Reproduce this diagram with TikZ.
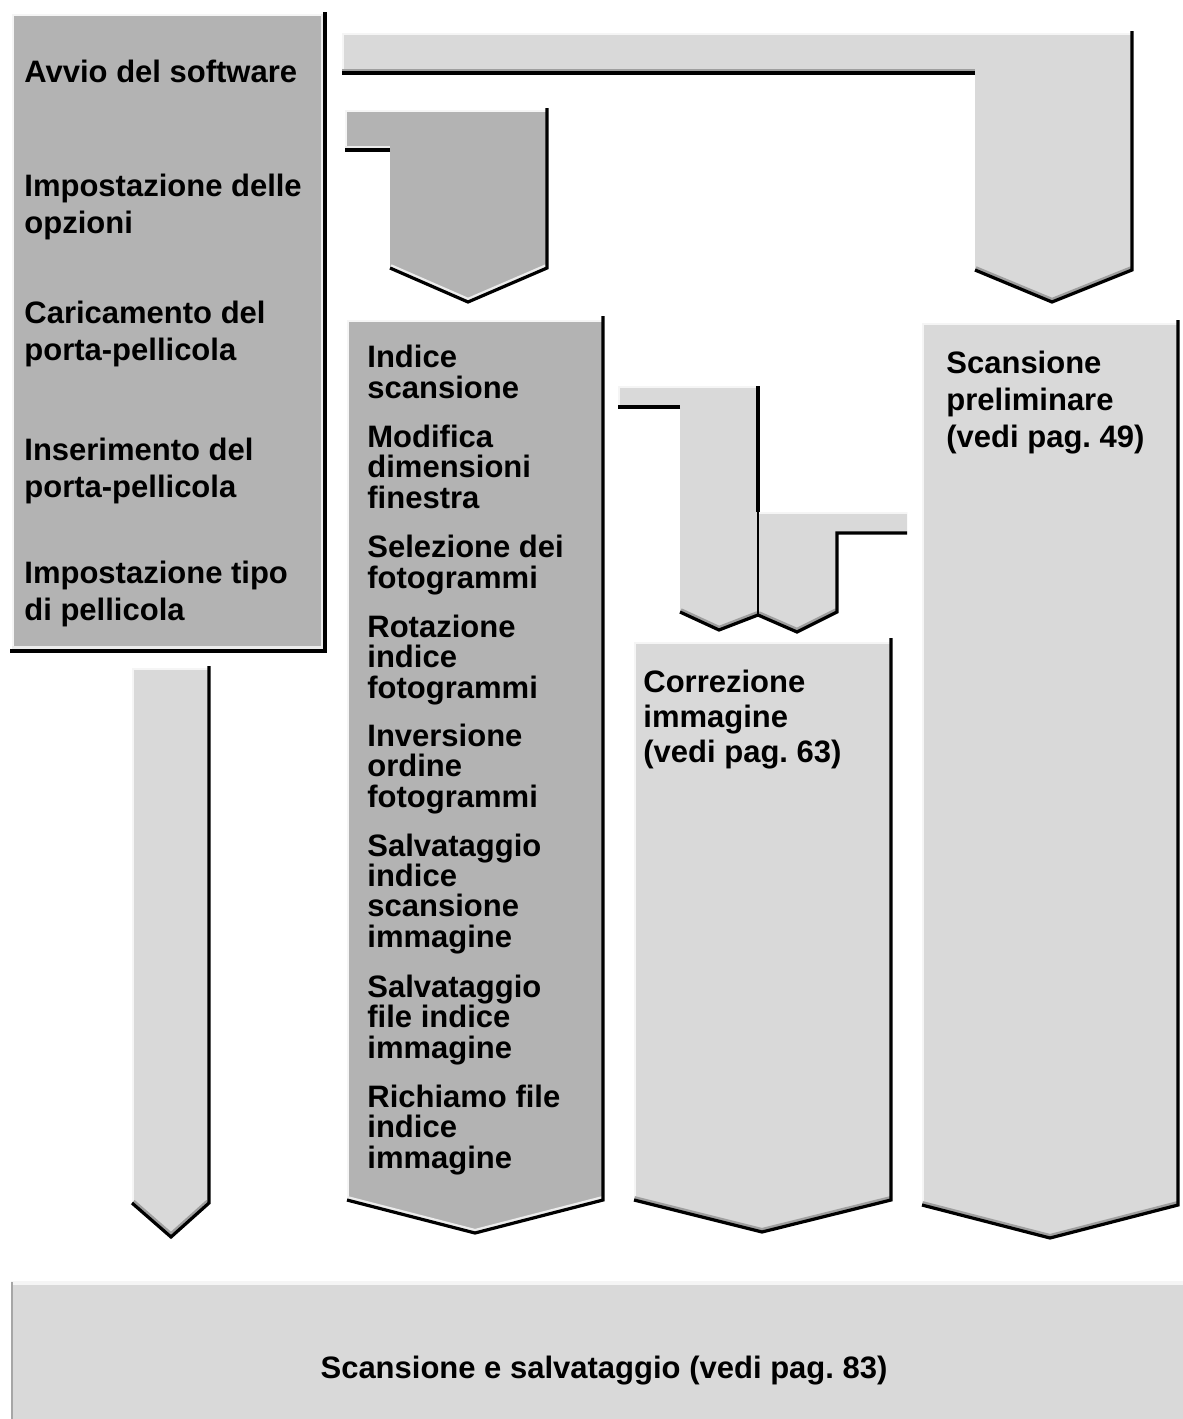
\documentclass[tikz,border=0pt]{standalone}
\usepackage{fontspec}
\setmainfont{Liberation Sans}
\usepackage{xcolor}
\frenchspacing

\definecolor{boxdark}{HTML}{B3B3B3}
\definecolor{boxlight}{HTML}{D9D9D9}

\begin{document}
\begin{tikzpicture}[x=0.5pt, y=-0.5pt,
  rim/.style={draw=black, line width=1.6pt},
  thinrim/.style={draw=black, line width=0.6pt},
  shine/.style={draw=white!92!gray, line width=2.4pt},
  bevel/.style={draw=gray!75, line width=4pt},
  softbevel/.style={draw=white!85!gray, line width=4pt},
  label/.style={anchor=base west, align=left, inner sep=0pt,
    font=\fontsize{15.5}{18.5}\selectfont\bfseries},
  item/.style={label, font=\fontsize{15.5}{15.15}\selectfont\bfseries}]

\useasboundingbox (0,0) rectangle (1183,1419);

% Left column box
\fill[boxdark] (12,14) rectangle (325,650);
\begin{scope}
  \clip (12,14) rectangle (325,650);
  \draw[shine] (12,650) -- (12,14) -- (325,14);
  \draw[softbevel] (325,14) -- (325,650) -- (12,650);
\end{scope}
\draw[rim] (325,12) -- (325,651) -- (10,651);

% Top connector
\fill[boxlight] (342,33) -- (1132,33) -- (1132,270) -- (1052,302) -- (975,270) -- (975,73) -- (342,73) -- cycle;
\begin{scope}
  \clip (342,33) -- (1132,33) -- (1132,270) -- (1052,302) -- (975,270) -- (975,73) -- (342,73) -- cycle;
  \draw[shine] (342,73) -- (342,33) -- (1132,33);
  \draw[bevel] (1132,270) -- (1052,302) -- (975,270);
  \draw[bevel] (975,73) -- (342,73);
\end{scope}
\draw[rim] (1132,31) -- (1132,270) -- (1052,302) -- (975,270);
\draw[rim] (975,73) -- (342,73);

% Second connector
\fill[boxdark] (345,110) -- (547,110) -- (547,268) -- (468,302) -- (390,268) -- (390,150) -- (345,150) -- cycle;
\begin{scope}
  \clip (345,110) -- (547,110) -- (547,268) -- (468,302) -- (390,268) -- (390,150) -- (345,150) -- cycle;
  \draw[shine] (345,150) -- (345,110) -- (547,110);
  \draw[softbevel] (547,268) -- (468,302) -- (390,268);
  \draw[softbevel] (390,150) -- (345,150);
\end{scope}
\draw[rim] (547,108) -- (547,268) -- (468,302) -- (390,268);
\draw[rim] (390,150) -- (345,150);

% Index column box
\fill[boxdark] (347,320) -- (603,320) -- (603,1200) -- (475,1233) -- (347,1200) -- cycle;
\begin{scope}
  \clip (347,320) -- (603,320) -- (603,1200) -- (475,1233) -- (347,1200) -- cycle;
  \draw[shine] (347,1200) -- (347,320) -- (603,320);
  \draw[softbevel] (603,1200) -- (475,1233) -- (347,1200);
\end{scope}
\draw[rim] (603,316) -- (603,1200) -- (475,1233) -- (347,1200);

% Left arrow
\fill[boxlight] (132,668) -- (209,668) -- (209,1203) -- (171,1237) -- (132,1203) -- cycle;
\begin{scope}
  \clip (132,668) -- (209,668) -- (209,1203) -- (171,1237) -- (132,1203) -- cycle;
  \draw[shine] (132,1203) -- (132,668) -- (209,668);
  \draw[bevel] (209,1203) -- (171,1237) -- (132,1203);
\end{scope}
\draw[rim] (209,666) -- (209,1203) -- (171,1237) -- (132,1203);

% Middle connectors
\fill[boxlight] (618,386) -- (758,386) -- (758,615) -- (719,630) -- (680,612) -- (680,407) -- (618,407) -- cycle;
\begin{scope}
  \clip (618,386) -- (758,386) -- (758,615) -- (719,630) -- (680,612) -- (680,407) -- (618,407) -- cycle;
  \draw[shine] (618,407) -- (618,386) -- (758,386);
  \draw[bevel] (758,615) -- (719,630) -- (680,612);
\end{scope}
\fill[boxlight] (758,512) -- (907,512) -- (907,533) -- (837,533) -- (837,612) -- (797,632) -- (758,615) -- cycle;
\begin{scope}
  \clip (758,512) -- (907,512) -- (907,533) -- (837,533) -- (837,612) -- (797,632) -- (758,615) -- cycle;
  \draw[shine] (758,512) -- (907,512);
  \draw[bevel] (837,612) -- (797,632) -- (758,615);
\end{scope}
\draw[rim] (758,386) -- (758,512);
\draw[thinrim] (758,512) -- (758,615);
\draw[rim] (758,615) -- (719,630) -- (680,612);
\draw[rim] (680,407) -- (618,407);
\draw[rim] (907,533) -- (837,533) -- (837,612) -- (797,632) -- (758,615);

% Correction box
\fill[boxlight] (634,642) -- (891,642) -- (891,1200) -- (762,1232) -- (634,1200) -- cycle;
\begin{scope}
  \clip (634,642) -- (891,642) -- (891,1200) -- (762,1232) -- (634,1200) -- cycle;
  \draw[shine] (634,1200) -- (634,642) -- (891,642);
  \draw[bevel] (891,1200) -- (762,1232) -- (634,1200);
\end{scope}
\draw[rim] (891,638) -- (891,1200) -- (762,1232) -- (634,1200);

% Preliminary scan box
\fill[boxlight] (922,323) -- (1178,323) -- (1178,1205) -- (1050,1238) -- (922,1205) -- cycle;
\begin{scope}
  \clip (922,323) -- (1178,323) -- (1178,1205) -- (1050,1238) -- (922,1205) -- cycle;
  \draw[shine] (922,1205) -- (922,323) -- (1178,323);
  \draw[bevel] (1178,1205) -- (1050,1238) -- (922,1205);
\end{scope}
\draw[rim] (1178,320) -- (1178,1205) -- (1050,1238) -- (922,1205);

% Bottom box
\fill[boxlight] (11,1282) rectangle (1183,1419);
\draw[shine] (11,1283) -- (1183,1283);
\draw[draw=gray!70, line width=1pt] (12,1282) -- (12,1419);

% Texts (base = last line)
\node[label] (avvio) at (24,82) {Avvio del software};
\node[label] (opzioni) at (24,233) {Impostazione delle\\opzioni};
\node[label] (caricamento) at (24,360) {Caricamento del\\porta-pellicola};
\node[label] (inserimento) at (24,497) {Inserimento del\\porta-pellicola};
\node[label] (tipo) at (24,620) {Impostazione tipo\\di pellicola};

\node[item] (indice) at (367,398) {Indice\\scansione};
\node[item] (modifica) at (367,508) {Modifica\\dimensioni\\finestra};
\node[item] (selezione) at (367,588) {Selezione dei\\fotogrammi};
\node[item] (rotazione) at (367,698) {Rotazione\\indice\\fotogrammi};
\node[item] (inversione) at (367,807) {Inversione\\ordine\\fotogrammi};
\node[item] (salvaindice) at (367,947) {Salvataggio\\indice\\scansione\\immagine};
\node[item] (salvafile) at (367,1058) {Salvataggio\\file indice\\immagine};
\node[item] (richiamo) at (367,1168) {Richiamo file\\indice\\immagine};

\node[label, font=\fontsize{15.5}{17.5}\selectfont\bfseries] (correzione) at (643,762) {Correzione\\immagine\\(vedi pag. 63)};
\node[label] (preliminare) at (946,447) {Scansione\\preliminare\\(vedi pag. 49)};

\node[label, anchor=base] (salvataggio) at (604,1378) {Scansione e salvataggio (vedi pag. 83)};

\end{tikzpicture}
\end{document}
